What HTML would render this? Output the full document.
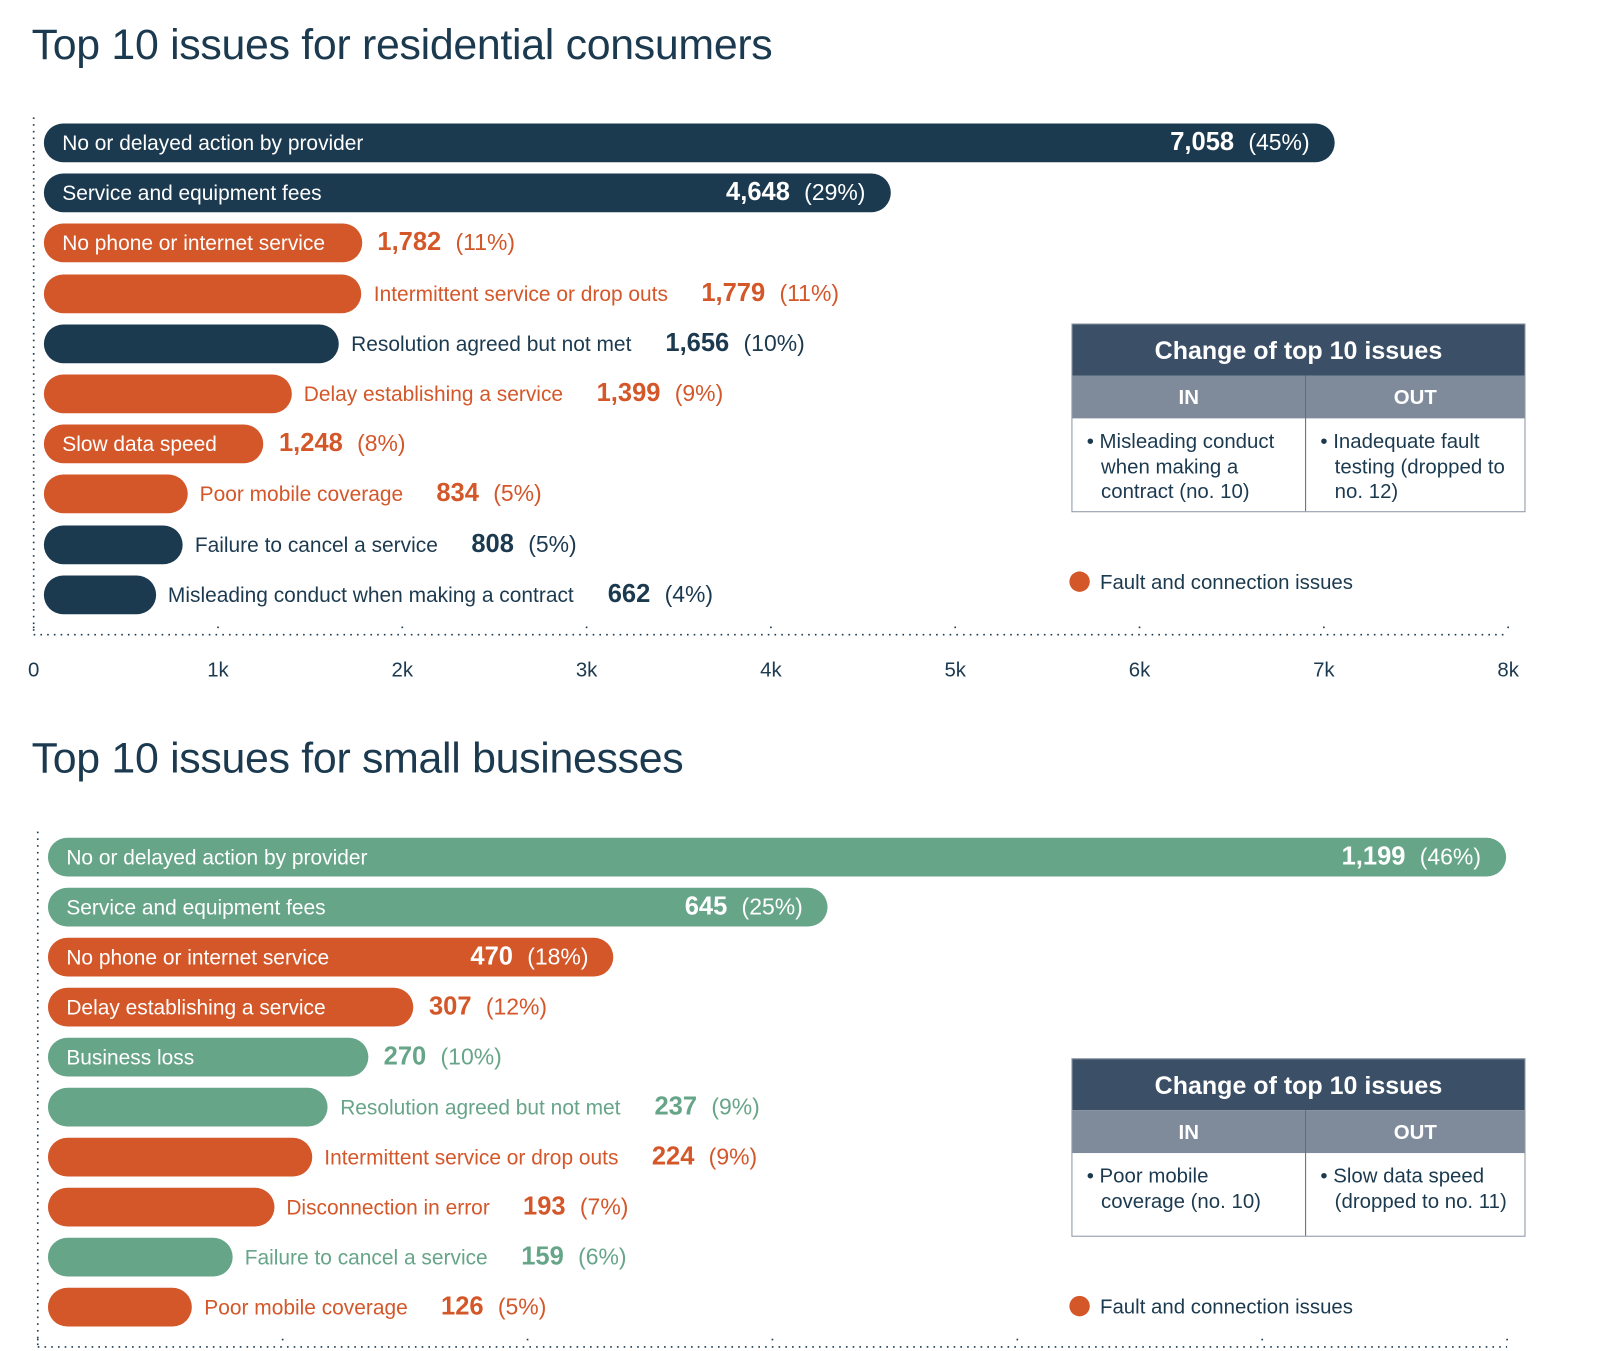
<!DOCTYPE html>
<html><head><meta charset="utf-8">
<style>
html,body{margin:0;background:#fff;font-family:"Liberation Sans",sans-serif;overflow:hidden;width:1600px;height:1351px;}
#root{position:relative;width:1568px;height:1324px;overflow:hidden;transform:scale(1.0204);transform-origin:0 0;}
.title{position:absolute;left:31px;font-size:42px;color:#1c3a4f;font-weight:normal;letter-spacing:-0.3px;}
.bar{position:absolute;height:38px;border-radius:19px;}
.t{position:absolute;white-space:nowrap;line-height:38px;height:38px;}
.lab{font-size:20.5px;}
.val{font-size:25px;font-weight:bold;}
.pct{font-size:22.5px;}
.tick{position:absolute;font-size:20px;color:#1c3a4f;transform:translateX(-50%);}
.tbl{position:absolute;left:1050px;width:445px;border:1px solid #8a96a4;box-sizing:border-box;background:#fff;}
.tbl .h{background:#3b4f66;color:#fff;font-weight:bold;font-size:24.5px;text-align:center;height:50px;line-height:54px;}
.tbl .sh{display:flex;background:#7f8b9b;color:#fff;font-weight:bold;font-size:20px;height:42px;line-height:44px;}
.tbl .sh div,.tbl .bd div{flex:0 0 48.5%;text-align:center;box-sizing:border-box;}
.tbl .sh div:last-child,.tbl .bd div:last-child{flex:1 1 auto;}
.tbl .sh div:first-child,.tbl .bd div:first-child{flex:0 0 229px;border-right:1px solid #5d6b7c;}
.tbl .bd{display:flex;color:#1c3a4f;font-size:20px;line-height:24.5px;}
.tbl .bd div{text-align:left;padding:11px 8px 6px 28px;text-indent:-14px;}
.leg{position:absolute;left:1048px;font-size:20px;color:#1c3a4f;line-height:24px;}
.leg span.dot{display:inline-block;width:20px;height:20px;border-radius:10px;background:#d4572a;vertical-align:-3px;margin-right:10px;}
</style></head><body>
<div id="root">
<div class="title" style="top:20px">Top 10 issues for residential consumers</div>
<div class="title" style="top:719px">Top 10 issues for small businesses</div>
<svg id="axes" width="1568" height="1324" style="position:absolute;left:0;top:0"></svg>
<div class="tbl" style="top:317px">
 <div class="h">Change of top 10 issues</div>
 <div class="sh"><div>IN</div><div>OUT</div></div>
 <div class="bd" style="height:91px"><div>• Misleading conduct when making a contract (no. 10)</div><div>• Inadequate fault testing (dropped to no. 12)</div></div>
</div>
<div class="leg" style="top:559px"><span class="dot"></span>Fault and connection issues</div>
<div class="tbl" style="top:1037px">
 <div class="h">Change of top 10 issues</div>
 <div class="sh"><div>IN</div><div>OUT</div></div>
 <div class="bd" style="height:81px"><div>• Poor mobile coverage (no. 10)</div><div>• Slow data speed (dropped to no. 11)</div></div>
</div>
<div class="leg" style="top:1269px"><span class="dot"></span>Fault and connection issues</div>
</div>
<script>
const resCategories=["No or delayed action by provider","Service and equipment fees","No phone or internet service","Intermittent service or drop outs","Resolution agreed but not met","Delay establishing a service","Slow data speed","Poor mobile coverage","Failure to cancel a service","Misleading conduct when making a contract"];
const resValues=[7058,4648,1782,1779,1656,1399,1248,834,808,662];
const resPercents=["45%","29%","11%","11%","10%","9%","8%","5%","5%","4%"];
const resFault=[false,false,true,true,false,true,true,true,false,false];
const resLabelInside=[true,true,true,false,false,false,true,false,false,false];
const resValueInside=[true,true,false,false,false,false,false,false,false,false];
const resTicks=[0,1000,2000,3000,4000,5000,6000,7000,8000];
const resTickLabels=["0","1k","2k","3k","4k","5k","6k","7k","8k"];
const bizCategories=["No or delayed action by provider","Service and equipment fees","No phone or internet service","Delay establishing a service","Business loss","Resolution agreed but not met","Intermittent service or drop outs","Disconnection in error","Failure to cancel a service","Poor mobile coverage"];
const bizValues=[1199,645,470,307,270,237,224,193,159,126];
const bizPercents=["46%","25%","18%","12%","10%","9%","9%","7%","6%","5%"];
const bizFault=[false,false,true,true,false,false,true,true,false,true];
const bizLabelInside=[true,true,true,true,true,false,false,false,false,false];
const bizValueInside=[true,true,true,false,false,false,false,false,false,false];
const bizTicks=[0,200,400,600,800,1000,1200];

const root=document.getElementById('root');
const svg=document.getElementById('axes');
const NS='http://www.w3.org/2000/svg';
function dotted(x1,y1,x2,y2){const l=document.createElementNS(NS,'line');
l.setAttribute('x1',x1);l.setAttribute('y1',y1);l.setAttribute('x2',x2);l.setAttribute('y2',y2);
l.setAttribute('stroke','#1c3a4f');l.setAttribute('stroke-width','1.6');l.setAttribute('stroke-dasharray','1.6 5');


svg.appendChild(l);}

function measure(txt,cls){const s=document.createElement('span');s.className='t '+cls;s.style.visibility='hidden';s.textContent=txt;root.appendChild(s);const w=s.offsetWidth;root.removeChild(s);return w;}

function drawChart(cfg){
 const {cats,vals,pcts,fault,labIn,valIn,max,x0,x1,y0,step,other,axisY,top,ticks,tickLabels}=cfg;
 const xs=v=>x0+(v/max)*(x1-x0);
 dotted(x0,top,x0,axisY);
 dotted(x0,axisY,x1,axisY);
 ticks.forEach((t,i)=>{const x=xs(t);dotted(x,axisY-8,x,axisY-2);
  if(tickLabels){const d=document.createElement('div');d.className='tick';d.style.left=x+'px';d.style.top=(axisY+24)+'px';d.textContent=tickLabels[i];
   
   
   root.appendChild(d);}});
 cats.forEach((c,i)=>{
  const col=fault[i]?'#d4572a':other;
  const yc=y0+i*step, y=yc-19;
  const bx=x0+10, bw=xs(vals[i])-bx;
  const b=document.createElement('div');b.className='bar';b.style.left=bx+'px';b.style.top=y+'px';b.style.width=bw+'px';b.style.background=col;
  
  
  root.appendChild(b);
  const labW=measure(c,'lab'), valTxt=vals[i].toLocaleString('en-US');
  const valW=measure(valTxt,'val')+14+measure('('+pcts[i]+')','pct');
  let lx, vx, lc, vc;
  if(labIn[i]){lx=bx+18;lc='#fff';}
  else{lx=bx+bw+12;lc=col;}
  if(valIn[i]){vx=bx+bw-valW-24;vc='#fff';}
  else{vx=labIn[i]?bx+bw+15:lx+labW+33;vc=col;}
  const l=document.createElement('div');l.className='t lab';l.style.left=lx+'px';l.style.top=(y+1)+'px';l.style.color=lc;l.textContent=c;
  
  
  root.appendChild(l);
  const v=document.createElement('div');v.className='t';v.style.left=vx+'px';v.style.top=(y-1)+'px';v.style.color=vc;
  v.innerHTML='<span class="val">'+valTxt+'</span><span class="pct" style="margin-left:14px">('+pcts[i]+')</span>';
  
  
  root.appendChild(v);
 });
}
drawChart({cats:resCategories,vals:resValues,pcts:resPercents,fault:resFault,labIn:resLabelInside,valIn:resValueInside,max:8000,x0:33,x1:1478,y0:140,step:49.2,other:'#1c3a4f',axisY:622,top:115,ticks:resTicks,tickLabels:resTickLabels});
drawChart({cats:bizCategories,vals:bizValues,pcts:bizPercents,fault:bizFault,labIn:bizLabelInside,valIn:bizValueInside,max:1200,x0:37,x1:1477,y0:840,step:49,other:'#67a589',axisY:1320,top:815,ticks:bizTicks,tickLabels:null});
</script>
</body></html>
